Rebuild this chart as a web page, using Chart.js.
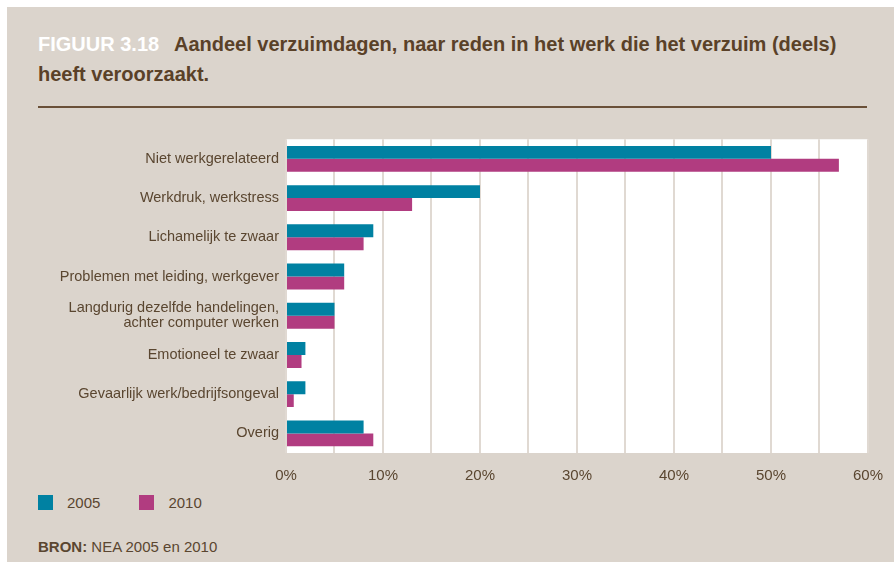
<!DOCTYPE html>
<html>
<head>
<meta charset="utf-8">
<script src="https://cdn.jsdelivr.net/npm/chart.js@4"></script>
<style>
  body { margin: 0; background: #fff; width: 894px; height: 562px; overflow: hidden; }
  #panel { position: absolute; left: 7px; top: 7px; width: 887px; height: 555px; background: #dbd4cc; }
  #title { position: absolute; left: 31px; top: 22px; width: 840px; font: bold 20px "Liberation Sans Narrow", "Liberation Sans", sans-serif; color: #5a4128; line-height: 30px; }
  #title span { color: #fff; margin-right: 10px; }
  #rule { position: absolute; left: 31px; top: 99px; width: 829px; height: 2px; background: #6a5038; }
  #wrap { position: absolute; left: 23px; top: 118px; width: 867px; height: 360px; }
  #legend { position: absolute; left: 31px; top: 487px; font: 15px "Liberation Sans", sans-serif; color: #5a4630; }
  #legend div { display: inline-block; margin-right: 39px; }
  #legend i { display: inline-block; width: 15px; height: 15px; vertical-align: -2px; margin-right: 14px; }
  #source { position: absolute; left: 31px; top: 531px; font: 15px "Liberation Sans", sans-serif; color: #5a4630; }
</style>
</head>
<body>
<div id="panel">
  <div id="title"><span>FIGUUR 3.18</span> Aandeel verzuimdagen, naar reden in het werk die het verzuim (deels) heeft veroorzaakt.</div>
  <div id="rule"></div>
  <div id="wrap"><canvas id="barChart"></canvas></div>
  <div id="legend"></div>
  <div id="source"><b>BRON:</b> NEA 2005 en 2010</div>
</div>
<script>
var categories = [
  'Niet werkgerelateerd',
  'Werkdruk, werkstress',
  'Lichamelijk te zwaar',
  'Problemen met leiding, werkgever',
  ['Langdurig dezelfde handelingen,', 'achter computer werken'],
  'Emotioneel te zwaar',
  'Gevaarlijk werk/bedrijfsongeval',
  'Overig'
];
var values2005 = [50, 20, 9, 6, 5, 2, 2, 8];
var values2010 = [57, 13, 8, 6, 5, 1.6, 0.8, 9];
var seriesNames = ['2005', '2010'];
var seriesColors = ['#0081a2', '#b13c80'];
var xTicks = [0, 10, 20, 30, 40, 50, 60];

var txtColor = '#5a4630';

// witte achtergrond achter het plotgebied
var plotBg = {
  id: 'plotBg',
  beforeDraw: function(chart) {
    var a = chart.chartArea, c = chart.ctx;
    c.save();
    c.fillStyle = '#ffffff';
    c.fillRect(a.left, a.top, a.right - a.left, a.bottom - a.top);
    c.restore();
  }
};

var ctx = document.getElementById('barChart').getContext('2d');
var myChart = new Chart(ctx, {
  type: 'bar',
  data: {
    labels: categories,
    datasets: [{
      label: seriesNames[0],
      data: values2005,
      backgroundColor: seriesColors[0]
    }, {
      label: seriesNames[1],
      data: values2010,
      backgroundColor: seriesColors[1]
    }]
  },
  options: {
    indexAxis: 'y',
    responsive: true,
    maintainAspectRatio: false,
    animation: false,
    categoryPercentage: 0.66,
    barPercentage: 1,
    layout: { padding: { top: 11, right: 17, bottom: 0, left: 0 } },
    plugins: {
      legend: { display: false },
      tooltip: { enabled: false }
    },
    scales: {
      x: {
        min: 0,
        max: 60,
        afterBuildTicks: function(scale) {
          // alleen labels om de 10%, rasterlijnen om de 5%
          scale.ticks = [];
          for (var v = 0; v <= 60; v += 5) scale.ticks.push({ value: v });
        },
        afterFit: function(scale) { scale.height = 32; },
        grid: { color: '#e0d9d2', lineWidth: 2, drawTicks: false },
        border: { display: false },
        ticks: {
          padding: 14,
          autoSkip: false,
          maxRotation: 0,
          color: txtColor,
          font: { family: 'Liberation Sans', size: 15 },
          callback: function(v) { return xTicks.indexOf(v) >= 0 ? v + '%' : ''; }
        }
      },
      y: {
        afterFit: function(scale) { scale.width = 256; },
        grid: { display: false, drawTicks: false },
        border: { display: false },
        ticks: {
          padding: 7,
          color: txtColor,
          font: { family: 'Liberation Sans', size: 14.5, lineHeight: 1.0 }
        }
      }
    }
  },
  plugins: [plotBg]
});

// legenda
var lg = document.getElementById('legend');
seriesNames.forEach(function(n, i) {
  var d = document.createElement('div');
  d.innerHTML = '<i style="background:' + seriesColors[i] + '"></i>' + n;
  lg.appendChild(d);
});
</script>
</body>
</html>
